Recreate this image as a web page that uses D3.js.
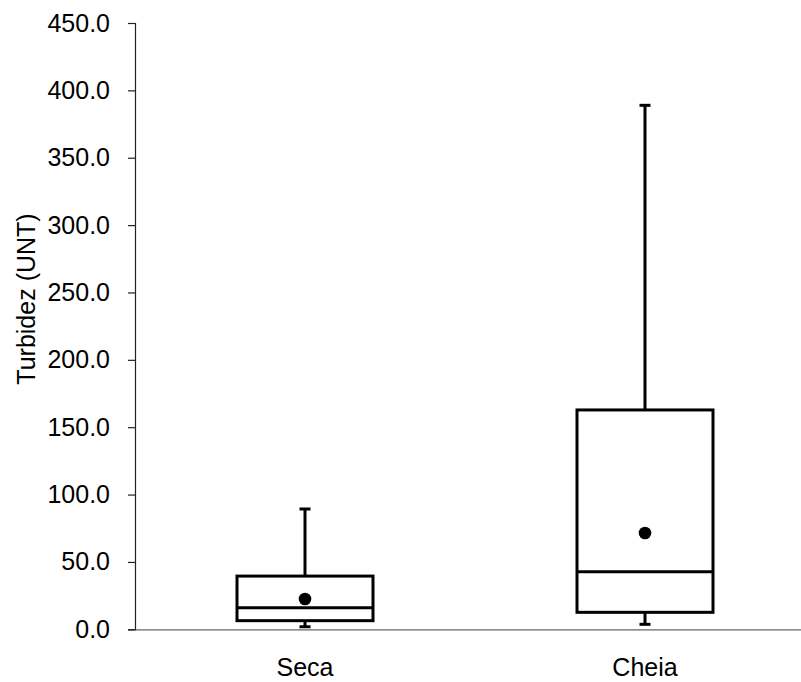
<!DOCTYPE html>
<html>
<head>
<meta charset="utf-8">
<script src="https://cdn.jsdelivr.net/npm/d3@7"></script>
<style>
  html, body { margin: 0; padding: 0; background: #fff; }
  svg { display: block; font-family: Arial, "Liberation Sans", sans-serif; }
</style>
</head>
<body>
<svg id="chart" width="801" height="682"></svg>
<script>
const categories = ["Seca", "Cheia"];
const minValues    = [1.9, 3.7];
const q1Values     = [6.4, 12.6];
const medianValues = [16.0, 42.8];
const q3Values     = [39.5, 162.8];
const maxValues    = [89.3, 388.9];
const meanValues   = [22.5, 71.5];
const yTicks = [0, 50, 100, 150, 200, 250, 300, 350, 400, 450];
const yTitle = "Turbidez (UNT)";

const svg = d3.select("#chart");
const plotLeft = 135, plotRight = 815, plotTop = 23, plotBottom = 629.3;

const x = d3.scaleBand().domain(categories).range([plotLeft, plotRight]).paddingInner(0).paddingOuter(0);
const y = d3.scaleLinear().domain([0, 450]).range([plotBottom, plotTop]);

const data = categories.map((c, i) => ({
  cat: c, min: minValues[i], q1: q1Values[i], med: medianValues[i],
  q3: q3Values[i], max: maxValues[i], mean: meanValues[i]
}));

// Y axis
const yAxis = d3.axisLeft(y).tickValues(yTicks).tickFormat(d3.format(".1f")).tickSize(7).tickPadding(18);
const gy = svg.append("g").attr("transform", `translate(${plotLeft},0)`).call(yAxis);
gy.select(".domain").attr("stroke", "#222").attr("stroke-width", 1.2);
gy.selectAll(".tick line").attr("stroke", "#222").attr("stroke-width", 1.2);
gy.selectAll(".tick text").attr("font-size", 25).attr("fill", "#000")
  .attr("font-family", "Arial, 'Liberation Sans', sans-serif");

// X axis
const xAxis = d3.axisBottom(x).tickSize(0).tickPadding(29);
const gx = svg.append("g").attr("transform", `translate(0,${plotBottom})`).call(xAxis);
gx.select(".domain").attr("stroke", "#666").attr("stroke-width", 1.2);
gx.selectAll(".tick text").attr("font-size", 25).attr("fill", "#000")
  .attr("font-family", "Arial, 'Liberation Sans', sans-serif");

// Y title
svg.append("text")
  .attr("transform", "translate(35,299) rotate(-90)")
  .attr("text-anchor", "middle")
  .attr("font-size", 25)
  .attr("fill", "#000")
  .text(yTitle);

const boxW = x.bandwidth() * 0.4;
const capW = 11;
const sw = 3;

const g = svg.append("g");
data.forEach(d => {
  const cx = x(d.cat) + x.bandwidth() / 2;
  // whiskers
  g.append("line").attr("x1", cx).attr("x2", cx).attr("y1", y(d.q3)).attr("y2", y(d.max))
    .attr("stroke", "#000").attr("stroke-width", sw);
  g.append("line").attr("x1", cx - capW / 2).attr("x2", cx + capW / 2).attr("y1", y(d.max)).attr("y2", y(d.max))
    .attr("stroke", "#000").attr("stroke-width", sw);
  g.append("line").attr("x1", cx).attr("x2", cx).attr("y1", y(d.q1)).attr("y2", y(d.min))
    .attr("stroke", "#000").attr("stroke-width", sw);
  g.append("line").attr("x1", cx - capW / 2).attr("x2", cx + capW / 2).attr("y1", y(d.min)).attr("y2", y(d.min))
    .attr("stroke", "#000").attr("stroke-width", sw);
  // box
  g.append("rect").attr("x", cx - boxW / 2).attr("y", y(d.q3))
    .attr("width", boxW).attr("height", y(d.q1) - y(d.q3))
    .attr("fill", "#fff").attr("stroke", "#000").attr("stroke-width", sw);
  // median
  g.append("line").attr("x1", cx - boxW / 2).attr("x2", cx + boxW / 2).attr("y1", y(d.med)).attr("y2", y(d.med))
    .attr("stroke", "#000").attr("stroke-width", sw);
  // mean
  g.append("circle").attr("cx", cx).attr("cy", y(d.mean)).attr("r", 6.3).attr("fill", "#000");
});
</script>
</body>
</html>
